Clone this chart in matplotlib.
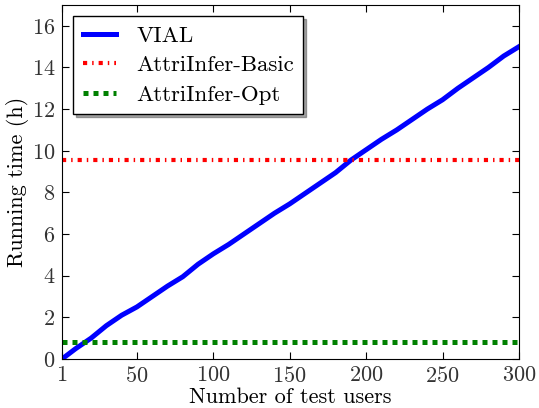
import matplotlib
matplotlib.use("Agg")
import matplotlib.pyplot as plt

plt.rcParams['font.family'] = 'serif'
plt.rcParams['font.serif'] = ['cmr10']
plt.rcParams['mathtext.fontset'] = 'cm'
plt.rcParams['axes.formatter.use_mathtext'] = True

# data
users = [1, 10, 20, 30, 40, 50, 60, 70, 80, 90, 100, 110, 120, 130, 140, 150,
         160, 170, 180, 190, 200, 210, 220, 230, 240, 250, 260, 270, 280, 290, 300]
vial = [0.0, 0.5, 1.0, 1.6, 2.1, 2.5, 3.0, 3.5, 3.95, 4.55, 5.05, 5.5, 6.0, 6.5,
        7.0, 7.45, 7.95, 8.45, 8.95, 9.55, 10.05, 10.55, 11.0, 11.5, 12.0, 12.45,
        13.0, 13.5, 14.0, 14.55, 15.0]
basic_time = 9.56
opt_time = 0.8
xticks = [1, 50, 100, 150, 200, 250, 300]
yticks = [0, 2, 4, 6, 8, 10, 12, 14, 16]

fig = plt.figure(figsize=(5.39, 4.08), dpi=100)
ax = fig.add_axes([62/539, 49/408, 457/539, 354/408])

ax.plot(users, vial, color='blue', lw=3.6, label='VIAL')
ax.plot([users[0], users[-1]], [basic_time, basic_time], color='red', lw=3,
        ls=(0, (1.0, 1.2, 0.35, 1.2)), label='AttriInfer-Basic')
ax.plot([users[0], users[-1]], [opt_time, opt_time], color='green', lw=3.6,
        ls=(0, (1.0, 1.0)), label='AttriInfer-Opt')

ax.set_xlim(1, 300)
ax.set_ylim(0, 17)
ax.set_xticks(xticks)
ax.set_yticks(yticks)
ax.tick_params(direction='in', top=True, right=True, labelsize=16, length=5, pad=5,
               labelcolor='#333333')
ax.set_xlabel('Number of test users', fontsize=16, labelpad=1)
ax.set_ylabel('Running time (h)', fontsize=16, labelpad=2)

ax.legend(loc='upper left', fontsize=16.5, shadow=True, fancybox=False,
          handlelength=1.45, borderpad=0.4, labelspacing=0.42, framealpha=1,
          edgecolor='black', borderaxespad=0.5, handletextpad=0.9)

fig.savefig('out.png', dpi=100)
